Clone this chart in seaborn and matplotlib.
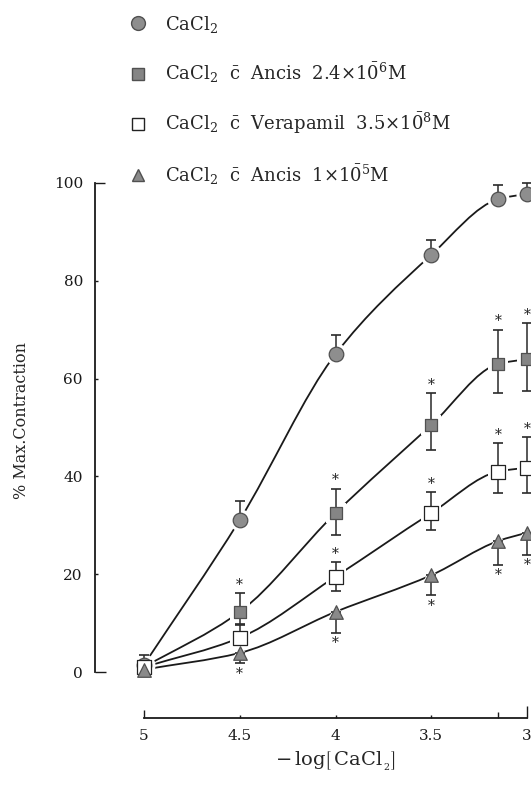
import numpy as np
import matplotlib
matplotlib.use("Agg")
import matplotlib.pyplot as plt
import seaborn as sns
from matplotlib.path import Path
from matplotlib.patches import PathPatch
from matplotlib.lines import Line2D

# -------------------- data -------------------- #
neg_log_cacl2 = [5.0, 4.5, 4.0, 3.5, 3.15, 3.0]

cacl2 = [1.5, 31.1, 65.0, 85.3, 96.7, 97.8]
cacl2_err_lo = [0, 0, 0, 0, 0, 0]
cacl2_err_hi = [2.0, 3.8, 4.0, 3.0, 2.8, 2.2]

ancis_24 = [1.0, 12.3, 32.5, 50.5, 63.0, 64.0]
ancis_24_err_lo = [0, 2.5, 4.5, 5.0, 6.0, 6.5]
ancis_24_err_hi = [0, 3.8, 5.0, 6.5, 7.0, 7.4]

verapamil = [1.0, 7.0, 19.5, 32.5, 41.0, 41.8]
verapamil_err_lo = [0, 0, 3.0, 3.5, 4.4, 5.2]
verapamil_err_hi = [0, 2.6, 3.0, 4.3, 5.8, 6.2]

ancis_1e5 = [0.5, 3.9, 12.3, 19.8, 26.8, 28.5]
ancis_1e5_err_lo = [0, 2.1, 4.3, 4.1, 4.9, 4.5]
ancis_1e5_err_hi = [0, 0, 0, 0, 0, 0]

# where the significance star goes (None / "up" / "down")
ancis_24_star = [None, "up", "up", "up", "up", "up"]
verapamil_star = [None, None, "up", "up", "up", "up"]
ancis_1e5_star = [None, "down", "down", "down", "down", "down"]

xtick_values = [5, 4.5, 4, 3.5, 3.15, 3]
xtick_labels = ["5", "4.5", "4", "3.5", "", "3"]
ytick_values = [0, 20, 40, 60, 80, 100]

legend_labels = [
    r"CaCl$_{\mathregular{2}}$",
    r"CaCl$_{\mathregular{2}}$  $\bar{\mathrm{c}}$  Ancis  2.4$\times$1$\bar{0}^{6}$M",
    r"CaCl$_{\mathregular{2}}$  $\bar{\mathrm{c}}$  Verapamil  3.5$\times$1$\bar{0}^{8}$M",
    r"CaCl$_{\mathregular{2}}$  $\bar{\mathrm{c}}$  Ancis  1$\times$1$\bar{0}^{5}$M",
]


def smooth_curve(xs, ys):
    """monotone cubic (pchip-like) drawn as bezier path through the points"""
    order = np.argsort(xs)
    x = np.asarray(xs, float)[order]
    y = np.asarray(ys, float)[order]
    h = np.diff(x)
    d = np.diff(y) / h
    m = np.zeros_like(x)
    m[0], m[-1] = d[0], d[-1]
    for i in range(1, len(x) - 1):
        if d[i - 1] * d[i] <= 0:
            m[i] = 0
        else:
            w1 = 2 * h[i] + h[i - 1]
            w2 = h[i] + 2 * h[i - 1]
            m[i] = (w1 + w2) / (w1 / d[i - 1] + w2 / d[i])
    verts = [(x[0], y[0])]
    codes = [Path.MOVETO]
    for i in range(len(x) - 1):
        verts += [(x[i] + h[i] / 3, y[i] + m[i] * h[i] / 3),
                  (x[i + 1] - h[i] / 3, y[i + 1] - m[i + 1] * h[i] / 3),
                  (x[i + 1], y[i + 1])]
        codes += [Path.CURVE4] * 3
    return Path(verts, codes)


sns.set_style("white")
plt.rcParams["font.family"] = ["DejaVu Serif"]
plt.rcParams["mathtext.fontset"] = "dejavuserif"

fig = plt.figure(figsize=(5.31, 7.94), dpi=100)
ax = fig.add_axes([144 / 531, 1 - 672 / 794, 383 / 531, 489 / 794])

series = [
    dict(y=cacl2, lo=cacl2_err_lo, hi=cacl2_err_hi, star=[None] * 6,
         marker="o", s=110, face="#8e8e8e", edge="#505050"),
    dict(y=ancis_24, lo=ancis_24_err_lo, hi=ancis_24_err_hi, star=ancis_24_star,
         marker="s", s=85, face="#858585", edge="#505050"),
    dict(y=verapamil, lo=verapamil_err_lo, hi=verapamil_err_hi, star=verapamil_star,
         marker="s", s=95, face="white", edge="#222222"),
    dict(y=ancis_1e5, lo=ancis_1e5_err_lo, hi=ancis_1e5_err_hi, star=ancis_1e5_star,
         marker="^", s=95, face="#8a8a8a", edge="#505050"),
]

for sr in series:
    ax.add_patch(PathPatch(smooth_curve(neg_log_cacl2, sr["y"]), fill=False,
                           lw=1.3, ec="#1a1a1a", zorder=1, clip_on=False))
    # white halo so the curve stops short of each marker
    ax.scatter(neg_log_cacl2, sr["y"], s=sr["s"] * 2.3, marker=sr["marker"],
               c="white", linewidths=0, zorder=2, clip_on=False)

for sr in series:
    ax.errorbar(neg_log_cacl2, sr["y"], yerr=[sr["lo"], sr["hi"]], fmt="none",
                ecolor="#2a2a2a", elinewidth=1.1, capsize=3.5, capthick=1.2,
                zorder=3, clip_on=False)
    sns.scatterplot(x=neg_log_cacl2, y=sr["y"], marker=sr["marker"], s=sr["s"],
                    color=sr["face"], edgecolor=sr["edge"], linewidth=0.9,
                    ax=ax, zorder=4, clip_on=False, legend=False)
    for xv, yv, lo, hi, st in zip(neg_log_cacl2, sr["y"], sr["lo"], sr["hi"], sr["star"]):
        if st == "up":
            ax.annotate("*", (xv, yv + hi), xytext=(0, 6), textcoords="offset points",
                        ha="center", va="center", fontsize=10, color="#222222")
        elif st == "down":
            ax.annotate("*", (xv, yv - lo), xytext=(0, -7.5), textcoords="offset points",
                        ha="center", va="center", fontsize=10, color="#222222")

ax.set_xlim(5, 3)
ax.set_ylim(0, 100)
ax.set_xticks(xtick_values)
ax.set_xticklabels(xtick_labels)
ax.set_yticks(ytick_values)
ax.set_yticklabels([str(v) for v in ytick_values])
sns.despine(ax=ax, offset={"left": 35, "bottom": 33})
ax.spines["left"].set_bounds(0, 100)
ax.spines["bottom"].set_bounds(3, 5)
for side in ("left", "bottom"):
    ax.spines[side].set_linewidth(1.3)
    ax.spines[side].set_color("#1a1a1a")
ax.tick_params(bottom=True, left=True, direction="in", length=2.5, width=1.0,
               labelsize=11, colors="#1a1a1a")
ax.tick_params(axis="y", pad=9)
ax.tick_params(axis="x", pad=8)
# longer end ticks, like the hand drawn brackets
yt = ax.yaxis.get_major_ticks()
yt[0].tick1line.set_markersize(8)
yt[-1].tick1line.set_markersize(7)
xt = ax.xaxis.get_major_ticks()
xt[0].tick1line.set_markersize(6)
xt[-1].tick1line.set_markersize(9)
xt[4].tick1line.set_markersize(4)

ax.set_ylabel("% Max.Contraction", fontsize=11.5)
ax.yaxis.set_label_coords(-0.298, 0.515)
ax.set_xlabel(r"$-\,\mathrm{log}\left[\,\mathrm{CaCl}_{_{\,\mathrm{2}}}\right]$",
              fontsize=14, labelpad=5)

handles = [Line2D([], [], ls="none", marker=sr["marker"], markersize=np.sqrt(sr["s"]) * 0.95,
                  markerfacecolor=sr["face"], markeredgecolor=sr["edge"])
           for sr in series]
fig.legend(handles, legend_labels, loc="upper left",
           bbox_to_anchor=(116.5 / 531, 1 - 1 / 794),
           frameon=False, fontsize=13, labelspacing=1.45, handletextpad=1.0,
           handlelength=1.0, borderaxespad=0.3)

fig.savefig("out.png", dpi=100)
